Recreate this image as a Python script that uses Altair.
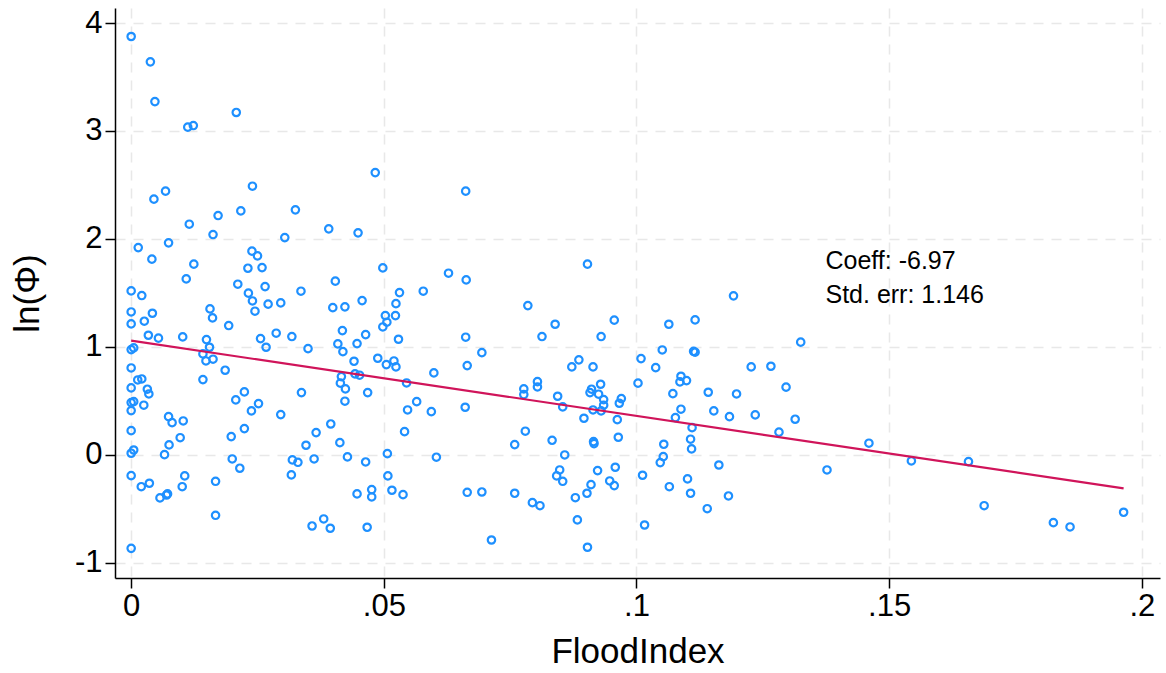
import altair as alt
import pandas as pd

# Flood exposure index and log productivity, one entry per observation
flood_index = [
    0.0, 0.0038, 0.0047, 0.0112, 0.0123, 0.0208, 0.0045, 0.0068, 0.0240, 0.0172, 0.0217, 0.0325,
    0.0115, 0.0162, 0.0304, 0.0014, 0.0074, 0.0041, 0.0124, 0.0109, 0.0239, 0.0250, 0.0231, 0.0259,
    0.0211, 0.0265, 0.0232, 0.0240, 0.0245, 0.0271, 0.0296, 0.0336, 0.0, 0.0021, 0.0, 0.0,
    0.0026, 0.0042, 0.0156, 0.0161, 0.0193, 0.0034, 0.0054, 0.0102, 0.0149, 0.0256, 0.0287, 0.0318,
    0.0267, 0.0350, 0.0, 0.0005, 0.0155, 0.0142, 0.0148, 0.0162, 0.0, 0.0186, 0.0142, 0.0013,
    0.0021, 0.0, 0.0032, 0.0035, 0.0, 0.0005, 0.0, 0.0025, 0.0207, 0.0224, 0.0252, 0.0238,
    0.0296, 0.0337,
    0.0074, 0.0081, 0.0103, 0.0, 0.0, 0.0005, 0.0075, 0.0097, 0.0066, 0.0198, 0.0224, 0.0346,
    0.0200, 0.0215, 0.0319, 0.0330, 0.0317, 0.0, 0.0020, 0.0036, 0.0106, 0.0101, 0.0057, 0.0070,
    0.0072, 0.0167, 0.0167, 0.0,
    0.0483, 0.0662,
    0.0391, 0.0449, 0.0498, 0.0404, 0.0628, 0.0663, 0.0399, 0.0423, 0.0457, 0.0531, 0.0578, 0.0524,
    0.0503, 0.0523, 0.0506, 0.0498, 0.0418, 0.0464, 0.0529, 0.0662, 0.0409, 0.0447, 0.0419, 0.0694,
    0.0488, 0.0441, 0.0505, 0.0520, 0.0524, 0.0665, 0.0599, 0.0443, 0.0452, 0.0416, 0.0414, 0.0545,
    0.0424, 0.0468, 0.0423, 0.0565, 0.0547, 0.0594, 0.0661,
    0.0395, 0.0366, 0.0413, 0.0541, 0.0362, 0.0428, 0.0464, 0.0507, 0.0604, 0.0508, 0.0447, 0.0476,
    0.0476, 0.0516, 0.0538, 0.0665, 0.0694, 0.0358, 0.0381, 0.0394, 0.0467, 0.0713,
    0.0903, 0.0785, 0.0839, 0.0956, 0.1064, 0.1116,
    0.0813, 0.0930, 0.1051, 0.1113, 0.1116, 0.0886, 0.0872, 0.0914, 0.1009, 0.1038, 0.0804, 0.0804,
    0.0777, 0.0777, 0.0844, 0.0854, 0.0911, 0.0908, 0.0929, 0.0925, 0.0935, 0.0935, 0.0930, 0.0914,
    0.0896, 0.0970, 0.0966, 0.1003, 0.1088, 0.1086, 0.1099, 0.1072, 0.1142, 0.1088, 0.1077, 0.1110,
    0.1107, 0.1109, 0.0962, 0.0780, 0.0833, 0.0915, 0.0916, 0.0964, 0.0759, 0.1054, 0.1053, 0.1047,
    0.0858, 0.0848, 0.0842, 0.0854, 0.0923, 0.0958, 0.0947, 0.0956, 0.0910, 0.0902, 0.0879, 0.1012,
    0.1065, 0.1101, 0.1107, 0.1140, 0.0759, 0.0794, 0.0809, 0.0883, 0.1016, 0.0903,
    0.1192, 0.1325, 0.1227, 0.1266, 0.1296, 0.1198, 0.1153,
    0.1184, 0.1235, 0.1314, 0.1282, 0.1460, 0.1544, 0.1163, 0.1377, 0.1182,
    0.1657, 0.1688, 0.1825, 0.1858, 0.1964,
]

ln_phi = [
    3.875, 3.640, 3.272, 3.035, 3.050, 3.171, 2.368, 2.442, 2.488, 2.216, 2.259, 2.269,
    2.136, 2.040, 2.012, 1.919, 1.963, 1.812, 1.766, 1.629, 1.886, 1.842, 1.728, 1.734,
    1.580, 1.558, 1.497, 1.425, 1.330, 1.395, 1.407, 1.515, 1.518, 1.475, 1.323, 1.212,
    1.237, 1.311, 1.351, 1.268, 1.197, 1.107, 1.080, 1.092, 1.067, 1.076, 1.126, 1.095,
    0.996, 0.983, 0.974, 0.990, 0.996, 0.934, 0.869, 0.885, 0.804, 0.783, 0.696, 0.693,
    0.702, 0.619, 0.607, 0.563, 0.483, 0.492, 0.409, 0.459, 0.508, 0.582, 0.474, 0.406,
    0.372, 0.576,
    0.353, 0.297, 0.313, 0.223, 0.014, 0.044, 0.091, 0.158, 0.001, 0.168, 0.242, 0.088,
    -0.039, -0.125, -0.048, -0.070, -0.187, -0.194, -0.296, -0.264, -0.196, -0.296, -0.400, -0.373,
    -0.363, -0.246, -0.561, -0.867,
    2.614, 2.442,
    2.093, 2.056, 1.731, 1.608, 1.682, 1.620, 1.363, 1.370, 1.428, 1.502, 1.515, 1.400,
    1.289, 1.289, 1.228, 1.184, 1.150, 1.113, 1.070, 1.089, 1.027, 1.030, 0.955, 0.946,
    0.894, 0.866, 0.835, 0.869, 0.814, 0.826, 0.758, 0.749, 0.737, 0.724, 0.663, 0.665,
    0.610, 0.576, 0.496, 0.492, 0.415, 0.399, 0.440,
    0.285, 0.205, 0.112, 0.214, -0.039, -0.020, -0.067, 0.010, -0.023, -0.196, -0.363, -0.323,
    -0.391, -0.329, -0.370, -0.348, -0.345, -0.660, -0.595, -0.681, -0.672, -0.790,
    1.766, 1.382, 1.209, 1.247, 1.209, 1.249,
    1.095, 1.095, 0.971, 0.958, 0.950, 0.879, 0.814, 0.814, 0.891, 0.807, 0.677, 0.628,
    0.610, 0.557, 0.542, 0.443, 0.607, 0.576, 0.653, 0.561, 0.511, 0.459, 0.406, 0.415,
    0.338, 0.520, 0.477, 0.663, 0.727, 0.675, 0.687, 0.566, 0.579, 0.422, 0.344, 0.251,
    0.144, 0.054, 0.325, 0.218, 0.134, 0.121, 0.103, 0.162, 0.094, 0.097, -0.018, -0.073,
    -0.002, -0.141, -0.196, -0.246, -0.147, -0.116, -0.243, -0.286, -0.277, -0.357, -0.398, -0.190,
    -0.296, -0.224, -0.357, -0.500, -0.357, -0.444, -0.472, -0.604, -0.651, -0.857,
    1.472, 1.043, 0.814, 0.820, 0.626, 0.563, 0.406,
    0.353, 0.369, 0.329, 0.209, 0.107, -0.057, -0.095, -0.141, -0.382,
    -0.064, -0.472, -0.629, -0.669, -0.533,
]

# Fitted linear regression
coeff = -6.97
std_err = 1.146
intercept = 1.057

x_ticks = [0, 0.05, 0.1, 0.15, 0.2]
y_ticks = [-1, 0, 1, 2, 3, 4]

FONT = "Liberation Sans"
BLUE = "#1E90FF"
CRANBERRY = "#D0145A"

points = pd.DataFrame({"FloodIndex": flood_index, "lnphi": ln_phi})
fit = pd.DataFrame({"FloodIndex": [0.0, max(flood_index)]})
fit["lnphi"] = intercept + coeff * fit["FloodIndex"]

x_scale = alt.Scale(domain=[-0.0032, 0.2036], nice=False, zero=False)
y_scale = alt.Scale(domain=[-1.142, 4.139], nice=False, zero=False)

x_axis = alt.Axis(
    title="FloodIndex",
    values=x_ticks,
    labelExpr="datum.value == 0 ? '0' : replace(toString(datum.value), '0.', '.')",
    labelFontSize=31,
    titleFontSize=35,
    labelPadding=3,
    titlePadding=13,
)
y_axis = alt.Axis(
    title="ln(Φ)",
    values=y_ticks,
    labelExpr="toString(datum.value)",
    labelFontSize=31,
    titleFontSize=35,
    labelPadding=3,
    titlePadding=29,
)

scatter = alt.Chart(points).mark_point(
    shape="circle", filled=False, size=55, strokeWidth=2.2, color=BLUE, opacity=1
).encode(
    x=alt.X("FloodIndex:Q", scale=x_scale, axis=x_axis),
    y=alt.Y("lnphi:Q", scale=y_scale, axis=y_axis),
)

fit_line = alt.Chart(fit).mark_line(color=CRANBERRY, strokeWidth=2.2).encode(
    x=alt.X("FloodIndex:Q", scale=x_scale),
    y=alt.Y("lnphi:Q", scale=y_scale),
)

note_style = dict(align="left", baseline="alphabetic", font=FONT, fontSize=25, color="black")
note_coeff = alt.Chart(pd.DataFrame({"t": [f"Coeff: {coeff}"]})).mark_text(**note_style).encode(
    x=alt.datum(0.1374, scale=x_scale), y=alt.datum(1.719, scale=y_scale), text="t:N"
)
note_se = alt.Chart(pd.DataFrame({"t": [f"Std. err: {std_err}"]})).mark_text(**note_style).encode(
    x=alt.datum(0.1374, scale=x_scale), y=alt.datum(1.410, scale=y_scale), text="t:N"
)

chart = (
    alt.layer(scatter, fit_line, note_coeff, note_se)
    .properties(
        width=1045,
        height=570,
        autosize=alt.AutoSizeParams(type="none"),
        padding={"left": 115, "top": 8, "right": 6, "bottom": 95},
        background="white",
    )
    .configure_view(stroke=None)
    .configure_axis(
        labelFont=FONT,
        titleFont=FONT,
        labelColor="black",
        titleColor="black",
        titleFontWeight="normal",
        domainColor="black",
        domainWidth=1.5,
        tickColor="black",
        tickWidth=1.5,
        tickSize=10,
        grid=True,
        gridColor="#E8E8E8",
        gridWidth=1.5,
        gridDash=[10, 8],
    )
)

chart.save("out.html", embed_options={"renderer": "svg", "actions": False})
